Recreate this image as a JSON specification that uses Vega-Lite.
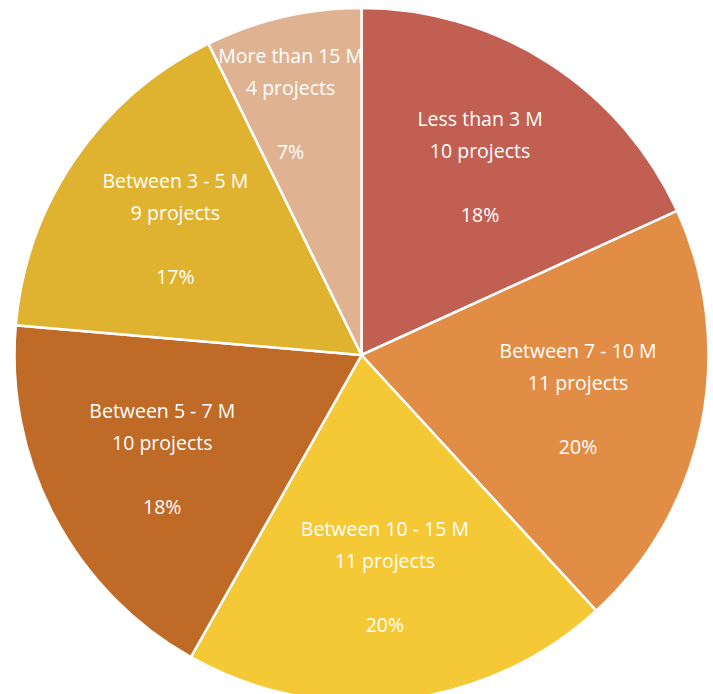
{
  "$schema": "https://vega.github.io/schema/vega-lite/v6.json",
  "width": 703,
  "height": 678,
  "autosize": {"type": "none"},
  "padding": {"left": 10, "top": 16, "right": 0, "bottom": 0},
  "background": "white",
  "config": {
    "view": {"stroke": null},
    "text": {"fill": "white", "font": "Open Sans", "fontSize": 19.5, "lineHeight": 32, "baseline": "middle", "align": "center"}
  },
  "data": {
    "values": [
      {"range": "Less than 3 M", "projects": 10, "share": "18%", "order": 1},
      {"range": "Between 7 - 10 M", "projects": 11, "share": "20%", "order": 2},
      {"range": "Between 10 - 15 M", "projects": 11, "share": "20%", "order": 3},
      {"range": "Between 5 - 7 M", "projects": 10, "share": "18%", "order": 4},
      {"range": "Between 3 - 5 M", "projects": 9, "share": "17%", "order": 5},
      {"range": "More than 15 M", "projects": 4, "share": "7%", "order": 6}
    ]
  },
  "transform": [
    {"stack": "projects", "groupby": [], "sort": [{"field": "order", "order": "ascending"}], "as": ["start", "end"]},
    {"calculate": "(datum.start + datum.end) / 2", "as": "mid"},
    {"calculate": "[datum.range, datum.projects + ' projects']", "as": "lines"}
  ],
  "layer": [
    {
      "mark": {"type": "arc", "outerRadius": 347, "stroke": "white", "strokeWidth": 2.5},
      "encoding": {
        "theta": {"field": "start", "type": "quantitative", "scale": {"domain": [0, 55]}},
        "theta2": {"field": "end"},
        "color": {
          "field": "range",
          "type": "nominal",
          "legend": null,
          "scale": {
            "domain": ["Less than 3 M", "Between 7 - 10 M", "Between 10 - 15 M", "Between 5 - 7 M", "Between 3 - 5 M", "More than 15 M"],
            "range": ["#C15F53", "#E28D45", "#F5C835", "#BF6A26", "#DFB22F", "#DFB392"]
          }
        }
      }
    },
    {
      "transform": [{"filter": "datum.order < 6"}],
      "mark": {"type": "text", "radius": 223, "dy": -47, "dx": -2},
      "encoding": {
        "theta": {"field": "mid", "type": "quantitative", "scale": {"domain": [0, 55]}},
        "text": {"field": "lines"}
      }
    },
    {
      "transform": [{"filter": "datum.order < 6"}],
      "mark": {"type": "text", "radius": 223, "dy": 49, "dx": -2},
      "encoding": {
        "theta": {"field": "mid", "type": "quantitative", "scale": {"domain": [0, 55]}},
        "text": {"field": "share"}
      }
    },
    {
      "transform": [{"filter": "datum.order == 6"}],
      "mark": {"type": "text", "radius": 260, "dy": -45, "dx": -12},
      "encoding": {
        "theta": {"field": "mid", "type": "quantitative", "scale": {"domain": [0, 55]}},
        "text": {"field": "lines"}
      }
    },
    {
      "transform": [{"filter": "datum.order == 6"}],
      "mark": {"type": "text", "radius": 260, "dy": 51, "dx": -12},
      "encoding": {
        "theta": {"field": "mid", "type": "quantitative", "scale": {"domain": [0, 55]}},
        "text": {"field": "share"}
      }
    }
  ]
}
